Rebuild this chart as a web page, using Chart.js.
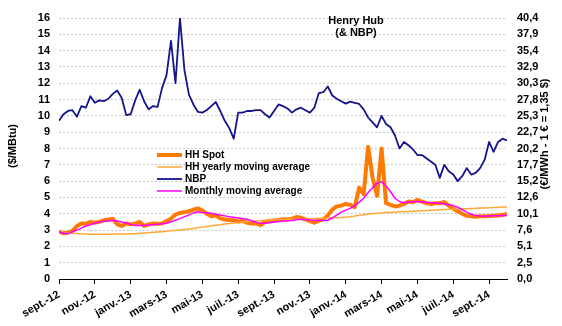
<!DOCTYPE html>
<html>
<head>
<meta charset="utf-8">
<script src="https://cdn.jsdelivr.net/npm/chart.js"></script>
<style>
  body { margin: 0; background: #fff; }
  #wrap { width: 562px; height: 326px; }
</style>
</head>
<body>
<div id="wrap"><canvas id="gasChart" width="562" height="326"></canvas></div>
<script>
// weekly samples, first point = start of sept. 2012 (x in months)
const monthLabels = ["sept.-12", "nov.-12", "janv.-13", "mars-13", "mai-13", "juil.-13",
  "sept.-13", "nov.-13", "janv.-14", "mars-14", "mai-14", "juil.-14", "sept.-14"];
const rightTicks = ["0,0", "2,5", "5,1", "7,6", "10,1", "12,6", "15,2", "17,7", "20,2",
  "22,7", "25,3", "27,8", "30,3", "32,9", "35,4", "37,9", "40,4"];
const seriesNames = ["HH Spot", "HH yearly moving average", "NBP", "Monthly moving average"];

const hhSpot = [2.9, 2.8, 2.85, 2.95, 3.25, 3.4, 3.38, 3.5, 3.45, 3.5,
  3.6, 3.65, 3.7, 3.35, 3.25, 3.4, 3.35, 3.4, 3.5, 3.25,
  3.35, 3.4, 3.38, 3.4, 3.55, 3.7, 3.95, 4.05, 4.1, 4.15,
  4.25, 4.33, 4.2, 4.0, 3.85, 3.9, 3.72, 3.65, 3.62, 3.6,
  3.52, 3.55, 3.45, 3.4, 3.4, 3.3, 3.5, 3.55, 3.58, 3.62,
  3.66, 3.65, 3.7, 3.8, 3.75, 3.65, 3.55, 3.45, 3.58, 3.66,
  3.9, 4.25, 4.45, 4.5, 4.6, 4.55, 4.4, 5.6, 5.2, 8.1,
  6.2, 5.1, 8.0, 4.65, 4.55, 4.45, 4.5, 4.6, 4.75, 4.7,
  4.85, 4.75, 4.65, 4.6, 4.65, 4.64, 4.72, 4.5, 4.3, 4.15,
  4.0, 3.87, 3.85, 3.82, 3.85, 3.85, 3.86, 3.88, 3.9, 3.92, 4.0];

const hhYearly = [2.9, 2.87, 2.84, 2.81, 2.79, 2.77, 2.76, 2.75, 2.75, 2.75,
  2.75, 2.75, 2.75, 2.76, 2.76, 2.76, 2.77, 2.78, 2.8, 2.82,
  2.84, 2.86, 2.88, 2.9, 2.92, 2.95, 2.98, 3.01, 3.04, 3.07,
  3.1, 3.14, 3.18, 3.22, 3.26, 3.3, 3.33, 3.37, 3.4, 3.44,
  3.47, 3.5, 3.52, 3.54, 3.56, 3.58, 3.6, 3.62, 3.63, 3.64,
  3.65, 3.66, 3.67, 3.68, 3.68, 3.69, 3.7, 3.71, 3.72, 3.73,
  3.74, 3.75, 3.76, 3.77, 3.79, 3.82, 3.86, 3.9, 3.94, 3.98,
  4.0, 4.03, 4.05, 4.07, 4.08, 4.1, 4.12, 4.13, 4.14, 4.16,
  4.17, 4.18, 4.2, 4.22, 4.23, 4.25, 4.26, 4.27, 4.28, 4.29,
  4.3, 4.31, 4.32, 4.33, 4.35, 4.36, 4.37, 4.38, 4.4, 4.41, 4.42];

const nbp = [9.7, 10.1, 10.3, 10.35, 9.95, 10.6, 10.5, 11.2, 10.8, 10.95,
  10.9, 11.05, 11.35, 11.55, 11.1, 10.05, 10.1, 10.95, 11.6, 10.9,
  10.4, 10.6, 10.55, 11.7, 12.5, 14.6, 12.0, 16.0, 12.8, 11.3,
  10.7, 10.25, 10.2, 10.36, 10.6, 10.85, 10.3, 9.7, 9.25, 8.6,
  10.2, 10.2, 10.3, 10.3, 10.35, 10.35, 10.1, 9.9, 10.3, 10.7,
  10.6, 10.45, 10.2, 10.4, 10.5, 10.35, 10.2, 10.5, 11.4, 11.45,
  11.8, 11.25, 11.05, 10.9, 10.75, 10.87, 10.8, 10.73, 10.4, 9.9,
  9.6, 9.3, 10.0, 9.5, 9.3, 8.8, 8.0, 8.4, 8.2, 7.95,
  7.6, 7.6, 7.4, 7.2, 7.0, 6.2, 7.0, 6.6, 6.4, 6.0,
  6.3, 6.8, 6.4, 6.5, 6.8, 7.3, 8.4, 7.8, 8.4, 8.6, 8.5];

const monthlyAvg = [2.9, 2.8, 2.78, 2.9, 3.0, 3.12, 3.25, 3.33, 3.42, 3.5,
  3.54, 3.56, 3.58, 3.55, 3.5, 3.43, 3.35, 3.28, 3.28, 3.3,
  3.31, 3.33, 3.35, 3.38, 3.42, 3.5, 3.6, 3.7, 3.82, 3.93,
  4.05, 4.12, 4.08, 4.06, 4.03, 3.97, 3.92, 3.87, 3.82, 3.78,
  3.74, 3.7, 3.66, 3.57, 3.48, 3.41, 3.42, 3.45, 3.5, 3.53,
  3.55, 3.57, 3.59, 3.63, 3.66, 3.65, 3.62, 3.6, 3.58, 3.58,
  3.6, 3.75, 3.92, 4.1, 4.22, 4.33, 4.5, 4.7, 4.95, 5.3,
  5.6, 5.87, 5.97, 5.7, 5.35, 4.95, 4.75, 4.68, 4.72, 4.74,
  4.75, 4.74, 4.7, 4.68, 4.66, 4.64, 4.6, 4.55, 4.5, 4.4,
  4.25, 4.1, 3.97, 3.9, 3.86, 3.85, 3.86, 3.87, 3.88, 3.9, 3.9];

const colors = ["#ff7a00", "#ffa733", "#14148c", "#ff00ff"];
const widths = [4, 1.5, 1.8, 1.5];

function toPoints(arr) {
  return arr.map((v, i) => ({ x: i * 0.25, y: v }));
}

const boldFont = "bold 11px 'Liberation Sans', Arial, sans-serif";
const legendFont = "bold 10px 'Liberation Sans', Arial, sans-serif";

const overlay = {
  id: "overlay",
  afterDraw(chart) {
    const ctx = chart.ctx;
    ctx.save();
    ctx.fillStyle = "#000";
    ctx.font = boldFont;
    ctx.textAlign = "center";
    ctx.textBaseline = "middle";
    ctx.fillText("Henry Hub", 356, 21);
    ctx.fillText("(& NBP)", 356, 33);

    // axis titles
    ctx.save();
    ctx.translate(13, 146);
    ctx.rotate(-Math.PI / 2);
    ctx.fillText("($/MBtu)", 0, 0);
    ctx.restore();
    ctx.save();
    ctx.translate(545, 134);
    ctx.rotate(-Math.PI / 2);
    ctx.fillText("(€/MWh - 1 € = 1,35 $)", 0, 0);
    ctx.restore();

    // legend
    const rows = [155, 167, 179, 191];
    ctx.font = legendFont;
    ctx.textAlign = "left";
    seriesNames.forEach((name, i) => {
      ctx.strokeStyle = colors[i];
      ctx.lineWidth = widths[i];
      ctx.beginPath();
      ctx.moveTo(157, rows[i]);
      ctx.lineTo(182, rows[i]);
      ctx.stroke();
      ctx.fillText(name, 185, rows[i]);
    });
    ctx.restore();
  }
};

new Chart(document.getElementById("gasChart"), {
  type: "line",
  data: {
    datasets: [
      { label: seriesNames[0], data: toPoints(hhSpot), order: 3 },
      { label: seriesNames[1], data: toPoints(hhYearly), order: 2 },
      { label: seriesNames[2], data: toPoints(nbp), order: 1 },
      { label: seriesNames[3], data: toPoints(monthlyAvg), order: 0 },
    ].map((d, i) => Object.assign(d, {
      borderColor: colors[i],
      borderWidth: widths[i],
      pointRadius: 0,
      tension: 0,
      fill: false,
      borderJoinStyle: "round",
      yAxisID: "y",
    })),
  },
  options: {
    responsive: false,
    animation: false,
    devicePixelRatio: 1,
    layout: { padding: { top: 18, bottom: 0, left: 0, right: 0 } },
    plugins: { legend: { display: false }, tooltip: { enabled: false } },
    scales: {
      x: {
        type: "linear",
        min: 0,
        max: 25,
        afterFit: (s) => { s.height = 47; },
        ticks: {
          stepSize: 2,
          includeBounds: false,
          autoSkip: false,
          maxRotation: 30,
          minRotation: 30,
          padding: 4,
          color: "#000",
          font: { family: "'Liberation Sans', Arial", size: 11, weight: "bold" },
          callback: (v) => monthLabels[v / 2],
        },
        grid: { drawOnChartArea: false, tickLength: 5, color: "#000" },
        border: { display: true, color: "#000", width: 1 },
      },
      y: {
        position: "left",
        min: 0,
        max: 16,
        afterFit: (s) => { s.width = 59; },
        ticks: {
          stepSize: 1,
          padding: 9,
          color: "#000",
          font: { family: "'Liberation Sans', Arial", size: 11, weight: "bold" },
        },
        grid: { color: "#c8c8c8", drawTicks: false },
        border: { display: false, dash: [2, 2] },
      },
      y2: {
        position: "right",
        min: 0,
        max: 16,
        afterFit: (s) => { s.width = 55; },
        ticks: {
          stepSize: 1,
          padding: 10,
          color: "#000",
          font: { family: "'Liberation Sans', Arial", size: 11, weight: "bold" },
          callback: (v) => rightTicks[v],
        },
        grid: { drawOnChartArea: false, drawTicks: false },
        border: { display: false },
      },
    },
  },
  plugins: [overlay],
});
</script>
</body>
</html>
